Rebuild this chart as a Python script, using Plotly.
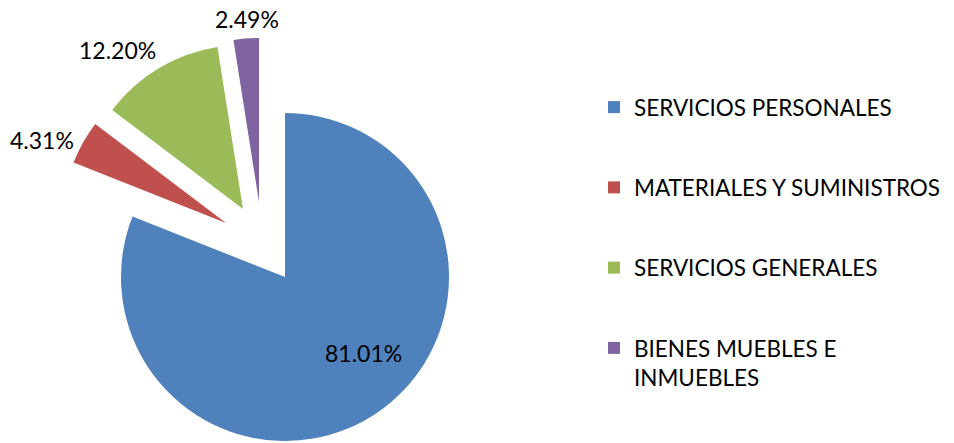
import plotly.graph_objects as go

# ---- data ----
categories = [
    "SERVICIOS PERSONALES",
    "MATERIALES Y SUMINISTROS",
    "SERVICIOS GENERALES",
    "BIENES MUEBLES E<br>INMUEBLES",
]
percentages = [81.01, 4.31, 12.20, 2.49]

# ---- style / layout ----
COLORS = ["#4F81BD", "#C0504D", "#9BBB59", "#8064A2"]
W, H = 954, 443
R = 164
# exploded slice centres (px)
CENTERS = [(285, 277), (226, 223), (243, 209), (259, 202)]
# data-label anchor positions (px) and anchors
LABEL_POS = [(363, 353, "center"), (76, 140, "right"), (158, 50, "right"), (247, 19, "center")]
LABEL_FONT = dict(family="Lato", size=23, color="#000000")
LEGEND_FONT = dict(family="Lato", size=22.5, color="#000000")


def domain_for(cx, cy, r=R):
    return dict(x=[(cx - r) / W, (cx + r) / W],
                y=[(H - cy - r) / H, (H - cy + r) / H])


fig = go.Figure()

# legend proxies (tiny, hidden behind the main slice)
for i, (cat, col) in enumerate(zip(categories, COLORS)):
    fig.add_trace(go.Pie(
        labels=[cat], values=[percentages[i]], sort=False,
        marker=dict(colors=[col], line=dict(width=0)),
        domain=domain_for(360, 360, 0.3), textinfo="none",
        hoverinfo="skip", legendgroup=f"g{i}", showlegend=True,
    ))

# one trace per slice so each can be exploded on its own
n = len(categories)
for i in range(n):
    colors = [COLORS[j] if j == i else "rgba(0,0,0,0)" for j in range(n)]
    fig.add_trace(go.Pie(
        labels=categories, values=percentages, sort=False,
        direction="clockwise", rotation=0,
        marker=dict(colors=colors, line=dict(width=0)),
        textinfo="none",
        domain=domain_for(*CENTERS[i]), showlegend=False,
        hovertemplate="%{label}: %{value:.2f}%<extra></extra>",
    ))

# data labels
for v, (px, py, xa) in zip(percentages, LABEL_POS):
    fig.add_annotation(
        x=px / W, y=1 - py / H, xref="paper", yref="paper",
        text=f"{v:.2f}%", showarrow=False, xanchor=xa, yanchor="middle",
        font=LABEL_FONT,
    )

fig.update_layout(
    width=W, height=H,
    margin=dict(l=0, r=0, t=0, b=0, autoexpand=False),
    paper_bgcolor="white", plot_bgcolor="white",
    font=LEGEND_FONT,
    legend=dict(
        x=594 / W, y=1 - 86 / H, xanchor="left", yanchor="top",
        font=LEGEND_FONT, valign="top", traceorder="grouped",
        tracegroupgap=48, bgcolor="rgba(0,0,0,0)",
    ),
)

fig.write_html(
    "out.html",
    config={"displayModeBar": False},
    post_script="document.body.style.margin='0';document.body.style.overflow='hidden';",
)
